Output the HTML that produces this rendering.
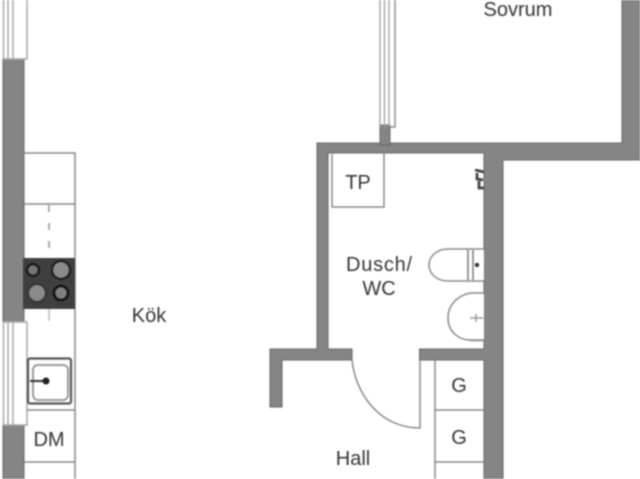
<!DOCTYPE html>
<html><head><meta charset="utf-8"><style>
html,body{margin:0;padding:0;background:#fff;width:640px;height:479px;overflow:hidden}
svg{display:block;filter:blur(.8px)}
text{font-family:"Liberation Sans",sans-serif;font-size:20px;fill:#333;text-anchor:middle}
</style></head><body>
<svg width="640" height="479" viewBox="0 0 640 479" xmlns="http://www.w3.org/2000/svg">
<rect width="640" height="479" fill="#fff"/>
<!-- left wall -->
<g fill="#858585" stroke="#666" stroke-width="1">
<rect x="3" y="59" width="21" height="263"/>
<rect x="3" y="425" width="21" height="60"/>
<!-- structural walls -->
<path d="M622 -2H640V160H503V481H484V360H419.500V349H484V153H328V349H352V360H282V407H270V349H317V143H622Z"/>
<rect x="380" y="125" width="10" height="20"/>
</g>
<!-- windows -->
<g fill="none" stroke="#a8a8a8" stroke-width="1.500">
<path d="M27 0V59H3M3 322H27V425H3"/>
<path d="M3.500 0V59M8 0V59M13 0V59M3.500 322V425M8 322V425M13 322V425"/>
<path d="M380 0V127M384.500 0V127M389 0V127"/>
</g>
<path d="M395 0V127H389" fill="none" stroke="#777" stroke-width="1.200"/>
<!-- kitchen -->
<g fill="none" stroke="#888" stroke-width="1.500">
<path d="M24 153H75V479"/>
<path d="M24 204H75"/>
<path d="M27 410H75"/>
<path d="M24 462H75"/>
<path d="M49 205V258" stroke-dasharray="7 11" stroke-width="2" stroke="#aaa"/>
<path d="M49 309V321" stroke="#bbb"/>
</g>
<!-- stove -->
<rect x="23" y="258" width="52" height="51" fill="#3f3f3f"/>
<circle cx="33" cy="270" r="6" fill="#777" stroke="#1c1c1c" stroke-width="2.500"/>
<circle cx="61" cy="270" r="9" fill="#8a8a8a" stroke="#1c1c1c" stroke-width="2"/>
<circle cx="37" cy="293" r="9" fill="#8a8a8a" stroke="#333" stroke-width="2"/>
<circle cx="61" cy="293" r="7" fill="#808080" stroke="#111" stroke-width="2.500"/>
<!-- sink -->
<rect x="28" y="358.500" width="43" height="45" rx="2" fill="#fff" stroke="#555" stroke-width="2.200"/>
<rect x="33" y="365" width="35" height="35" rx="5" fill="#fff" stroke="#999" stroke-width="2"/>
<path d="M30 381H46" stroke="#333" stroke-width="2"/>
<circle cx="46" cy="381" r="3.500" fill="#222"/>
<!-- TP box -->
<path d="M332 154V207H384V153" fill="none" stroke="#888" stroke-width="1.500"/>
<!-- shower mount -->
<path d="M475 170L484 172M477 173V179L483 180M479 181V188H484" fill="none" stroke="#444" stroke-width="2.800"/>
<!-- toilet -->
<path d="M484 249H448C436 249 429 257 429 265C429 273 436 281 448 281H484" fill="#fff" stroke="#888" stroke-width="1.500"/>
<path d="M468 250V280M473 250V280" stroke="#777" stroke-width="1.500"/>
<circle cx="477" cy="265" r="2.200" fill="#333"/>
<!-- basin -->
<path d="M484 293H470C456 296 448 306 448 318C448 331 458 340 470 340H484" fill="#fff" stroke="#888" stroke-width="1.500"/>
<path d="M484 341H470" stroke="#aaa"/>
<path d="M470 318H483M476 314V322" stroke="#999" stroke-width="1.500"/>
<!-- door -->
<path d="M352 360C356 397 382 428 420 428V360" fill="none" stroke="#888" stroke-width="1.500"/>
<!-- cabinets -->
<g fill="none" stroke="#888" stroke-width="1.500">
<path d="M435 360V479"/>
<path d="M435 410H484M435 462H484"/>
</g>
<!-- labels -->
<text x="518" y="16">Sovrum</text>
<text x="149" y="322">Kök</text>
<text x="358" y="189">TP</text>
<text x="379" y="271" textLength="66">Dusch/</text>
<text x="379" y="295">WC</text>
<text x="49" y="446">DM</text>
<text x="459" y="392">G</text>
<text x="459" y="444">G</text>
<text x="459" y="496">G</text>
<text x="353" y="465">Hall</text>
</svg>
</body></html>
